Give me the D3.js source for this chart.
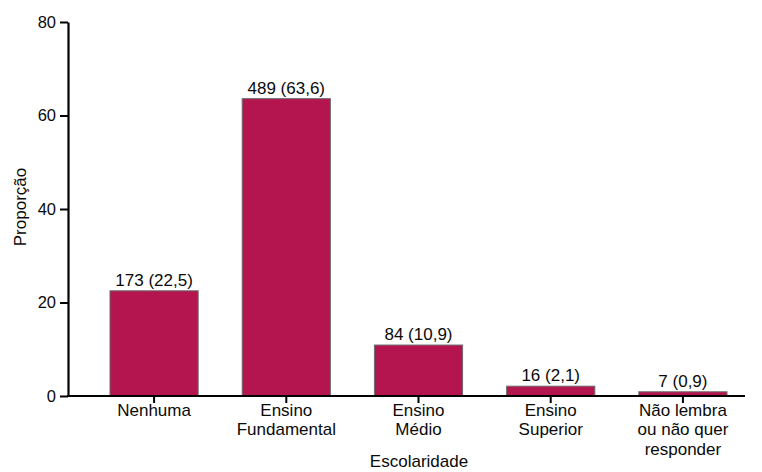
<!DOCTYPE html>
<html>
<head>
  <meta charset="utf-8">
  <script src="https://d3js.org/d3.v7.min.js"></script>
  <style>
    body { margin: 0; background: #fff; }
    text { font-family: "Liberation Sans", Arial, sans-serif; fill: #0a0a0a; }
  </style>
</head>
<body>
<div id="chart"></div>
<script>
// data
const categories = ["Nenhuma", "Ensino Fundamental", "Ensino Médio", "Ensino Superior", "Não lembra ou não quer responder"];
const catLines = [["Nenhuma"], ["Ensino", "Fundamental"], ["Ensino", "Médio"], ["Ensino", "Superior"], ["Não lembra", "ou não quer", "responder"]];
const counts = [173, 489, 84, 16, 7];
const percents = [22.5, 63.6, 10.9, 2.1, 0.9];
const yTicks = [0, 20, 40, 60, 80];

const W = 762, H = 472;
const margin = {top: 22, left: 68};
const height = 374;

const svg = d3.select("#chart").append("svg")
  .attr("width", W).attr("height", H);

const g = svg.append("g")
  .attr("transform", `translate(${margin.left},${margin.top})`);

const x = d3.scaleBand()
  .domain(categories)
  .range([0, 701])
  .paddingInner(0.333)
  .paddingOuter(0.3176);

const y = d3.scaleLinear()
  .domain([0, 80])
  .range([height, 0]);

const data = categories.map((c, i) => ({cat: c, n: counts[i], p: percents[i], lines: catLines[i]}));

// bars
g.selectAll("rect.bar")
  .data(data)
  .join("rect")
    .attr("class", "bar")
    .attr("x", d => x(d.cat))
    .attr("y", d => y(d.p))
    .attr("width", x.bandwidth())
    .attr("height", d => y(0) - y(d.p))
    .attr("fill", "#b5154f")
    .attr("stroke", "#6b6b6b")
    .attr("stroke-width", 1);

// value labels
g.selectAll("text.val")
  .data(data)
  .join("text")
    .attr("class", "val")
    .attr("x", d => x(d.cat) + x.bandwidth() / 2)
    .attr("y", d => y(d.p) - 5)
    .attr("text-anchor", "middle")
    .style("font-size", "17px")
    .text(d => `${d.n} (${String(d.p).replace(".", ",")})`);

// y axis
const yAxis = g.append("g")
  .call(d3.axisLeft(y).tickValues(yTicks).tickSize(8).tickSizeOuter(0));
yAxis.select(".domain").attr("stroke", "#000").attr("stroke-width", 2.2);
yAxis.selectAll(".tick line").attr("stroke", "#000").attr("stroke-width", 2);
yAxis.selectAll(".tick text")
  .attr("x", -12)
  .style("font-size", "16.5px")
  .style("font-family", "'Liberation Sans', Arial, sans-serif");

// x axis
const xAxis = g.append("g")
  .attr("transform", `translate(0,${height})`)
  .call(d3.axisBottom(x).tickSize(7).tickSizeOuter(0).tickFormat(""));
xAxis.select(".domain").remove();
xAxis.selectAll(".tick line").attr("stroke", "#000").attr("stroke-width", 2);
g.append("line")
  .attr("x1", -1).attr("x2", 677)
  .attr("y1", height).attr("y2", height)
  .attr("stroke", "#000").attr("stroke-width", 2.2);

// category labels
const lab = g.selectAll("text.cat")
  .data(data)
  .join("text")
    .attr("class", "cat")
    .attr("text-anchor", "middle")
    .attr("transform", d => `translate(${x(d.cat) + x.bandwidth() / 2},${height + 20})`)
    .style("font-size", "17px");
lab.selectAll("tspan")
  .data(d => d.lines)
  .join("tspan")
    .attr("x", 0)
    .attr("y", (d, i) => i * 19.3)
    .text(d => d);

// axis titles
svg.append("text")
  .attr("x", 419).attr("y", 467)
  .attr("text-anchor", "middle")
  .style("font-size", "17px")
  .text("Escolaridade");

svg.append("text")
  .attr("transform", "translate(26,207) rotate(-90)")
  .attr("text-anchor", "middle")
  .style("font-size", "17px")
  .text("Proporção");
</script>
</body>
</html>
